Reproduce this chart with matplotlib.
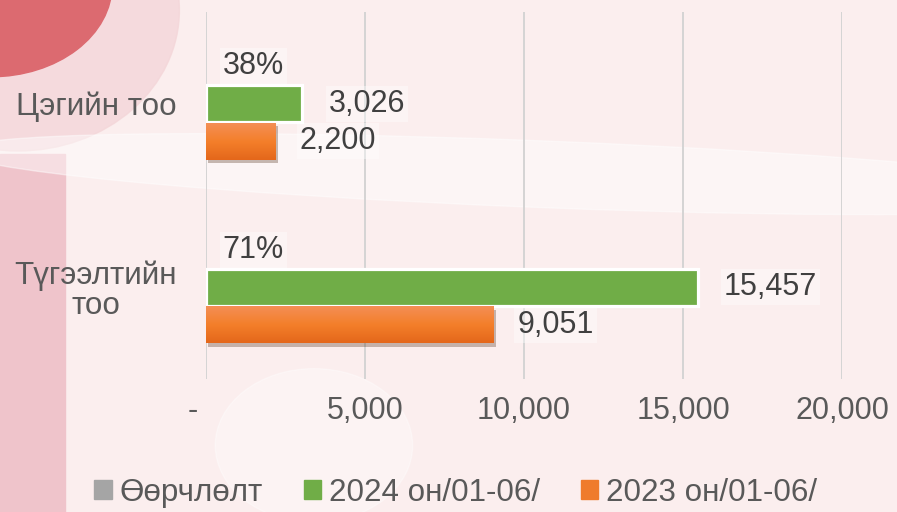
import numpy as np
import matplotlib
matplotlib.use("Agg")
import matplotlib.pyplot as plt
from matplotlib.patches import Ellipse, Rectangle, Patch
from matplotlib.colors import LinearSegmentedColormap
import matplotlib.patheffects as pe

plt.rcParams['font.family'] = ['Liberation Sans', 'DejaVu Sans']

# data
categories = ["Цэгийн тоо", "Түгээлтийн\nтоо"]
change_pct = [0.38, 0.71]
vals_2024 = [3026, 15457]
vals_2023 = [2200, 9051]
series_names = ["Өөрчлөлт", "2024 он/01-06/", "2023 он/01-06/"]
xticks = [0, 5000, 10000, 15000, 20000]
xtick_labels = ["-   ", "5,000", "10,000", "15,000", "20,000"]

c_gray = "#a5a5a5"
c_green = "#70ad47"
c_orange = "#ef7b2b"
txt_dark = "#404040"
txt_axis = "#595959"

fig = plt.figure(figsize=(8.97, 5.12), dpi=100)
fig.patch.set_facecolor("#fbeeee")

# background decoration (slide artwork behind the chart)
fig.patches.append(Rectangle((0, 0), 0.073, 0.70, transform=fig.transFigure,
                             color="#efc4cb", zorder=0))
fig.patches.append(Ellipse((0.02, 0.98), 0.36, 0.55, transform=fig.transFigure,
                           color="#f4d6d9", alpha=0.8, zorder=0))
fig.patches.append(Ellipse((-0.01, 1.03), 0.27, 0.36, transform=fig.transFigure,
                           color="#dc6a70", zorder=0))
fig.patches.append(Ellipse((0.6, 0.66), 1.3, 0.13, angle=-4, transform=fig.transFigure,
                           color="white", alpha=0.45, zorder=0))
fig.patches.append(Ellipse((0.35, 0.13), 0.22, 0.3, transform=fig.transFigure,
                           color="white", alpha=0.35, zorder=0))

ax = fig.add_axes([0.2297, 0.2598, 0.709, 0.7168])
ax.set_facecolor("none")
ax.set_zorder(2)

y = np.arange(len(categories))
step = 0.205
h = 0.2

b_gray = ax.barh(y - step, change_pct, height=h, color=c_gray)
b_green = ax.barh(y, vals_2024, height=h, color=c_green, edgecolor="white", linewidth=2.3)
b_orange = ax.barh(y + step, vals_2023, height=h, color=c_orange,
                   path_effects=[pe.SimplePatchShadow(offset=(1.5, -2.5), alpha=0.3), pe.Normal()])

# vertical gradient on orange bars
grad_cmap = LinearSegmentedColormap.from_list("og", ["#f38e55", "#f47f2a", "#e4671b"])
grad = np.linspace(0, 1, 64).reshape(-1, 1)
for p in b_orange:
    x0, yb = p.get_x(), p.get_y()
    im = ax.imshow(grad, cmap=grad_cmap, aspect="auto", zorder=p.get_zorder() + 0.1,
                   extent=[x0, x0 + p.get_width(), yb + p.get_height(), yb])
    im.set_clip_path(p)

ax.set_xlim(0, 20000)
ax.set_ylim(1.5, -0.5)
ax.set_xticks(xticks)
ax.set_xticklabels(xtick_labels)
ax.set_yticks(y)
ax.set_yticklabels(categories, linespacing=1.0)
for lab in ax.get_yticklabels():
    lab.set_multialignment("center")
ax.tick_params(axis="x", length=0, pad=12, labelsize=22, labelcolor=txt_axis)
ax.tick_params(axis="y", length=0, pad=21, labelsize=22.6, labelcolor=txt_axis)
for s in ax.spines.values():
    s.set_visible(False)
ax.grid(axis="x", color="#d4d4d4", linewidth=1.4)
ax.set_axisbelow(True)

lbl_box = dict(boxstyle="square,pad=0.1", fc="white", ec="none", alpha=0.4)
ax.bar_label(b_gray, labels=[f"{v:.0%}" for v in change_pct], padding=12,
             fontsize=22, color=txt_dark, bbox=lbl_box)
ax.bar_label(b_green, labels=[f"{v:,}" for v in vals_2024], padding=19,
             fontsize=22, color=txt_dark, bbox=lbl_box)
ax.bar_label(b_orange, labels=[f"{v:,}" for v in vals_2023], padding=17,
             fontsize=22, color=txt_dark, bbox=lbl_box)

handles = [Patch(color=c_gray), Patch(color=c_green), Patch(color=c_orange)]
fig.legend(handles, series_names, loc="lower center", bbox_to_anchor=(0.508, -0.022),
           ncol=3, frameon=False, fontsize=22.6, labelcolor=txt_axis,
           handlelength=0.55, handleheight=0.55, handletextpad=0.25,
           columnspacing=1.3, borderpad=0)

fig.savefig("out.png", dpi=100, facecolor=fig.get_facecolor())
